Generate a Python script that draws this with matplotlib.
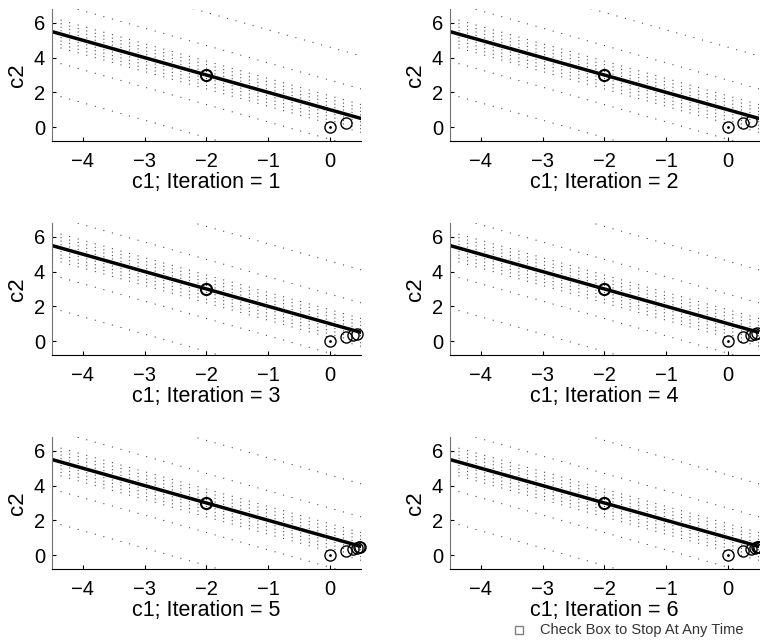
import numpy as np
import matplotlib
matplotlib.use('Agg')
import matplotlib.pyplot as plt
from matplotlib.patches import Rectangle

plt.rcParams['font.family'] = ['Liberation Sans', 'DejaVu Sans']

## constraint line c1 + c2 = 1, drawn between these c1 values
line_c1 = [-4.5, 0.5]
line_c2 = [5.5, 0.5]

## dotted contour levels, each one a line c1 + c2 = level
contour_levels = [-2.6, -0.7, 0.2, 0.4, 0.6, 0.8, 1.2, 1.4, 1.6, 1.8, 2.7, 4.6]

## fixed point on the constraint
fixed_c1 = -2.0
fixed_c2 = 3.0

## iterates (start + one new point per iteration)
iter_c1 = [0.0, 0.25, 0.375, 0.44, 0.47, 0.485, 0.493]
iter_c2 = [0.0, 0.25, 0.36, 0.43, 0.465, 0.483, 0.492]

iterations = [1, 2, 3, 4, 5, 6]

xticks = [-4, -3, -2, -1, 0]
yticks = [0, 2, 4, 6]

fig = plt.figure(figsize=(7.6, 6.44), dpi=100)

lefts = [0.0684, 0.592]
bottoms = [0.781, 0.4488, 0.1165]
w, h = 0.4066, 0.205

cx = np.array([-4.5, 0.5])
for k, it in enumerate(iterations):
    row, col = divmod(k, 2)
    ax = fig.add_axes([lefts[col], bottoms[row], w, h])

    for lev in contour_levels:
        ax.plot(cx, lev - cx, color='0.3', lw=0.8, linestyle=(0, (1, 7)))

    ax.plot(line_c1, line_c2, color='k', lw=2.5)
    ax.plot(fixed_c1, fixed_c2, 'o', mfc='none', mec='k', ms=8, mew=1.5)

    n = it + 1
    ax.plot(iter_c1[:n], iter_c2[:n], 'o', mfc='none', mec='k', ms=8,
            mew=1.0, clip_on=False)
    ax.plot(iter_c1[0], iter_c2[0], '.', color='k', ms=2)

    ax.set_xlim(-4.5, 0.5)
    ax.set_ylim(-0.8, 6.8)
    ax.set_xticks(xticks)
    ax.set_yticks(yticks)
    ax.set_xticklabels(['\u2212%d' % -t if t < 0 else '%d' % t for t in xticks])
    ax.tick_params(direction='in', length=3, labelsize=14.5)
    ax.tick_params(axis='x', pad=8)
    ax.tick_params(axis='y', pad=5)
    ax.spines['top'].set_visible(False)
    ax.spines['right'].set_visible(False)
    ax.spines['left'].set_color('0.45')
    ax.set_xlabel('c1; Iteration = %d' % it, fontsize=15.5, labelpad=0.5)
    ax.set_ylabel('c2', fontsize=16, labelpad=4)

## checkbox at the bottom
fig.patches.append(Rectangle((515 / 760, 1 - 634 / 644), 8 / 760, 8 / 644,
                             transform=fig.transFigure, fill=False,
                             edgecolor='0.5', lw=1))
fig.text(540 / 760, 1 - 630 / 644, 'Check Box to Stop At Any Time',
         fontsize=10.5, color='0.2', va='center', ha='left')

fig.savefig('out.png', dpi=100)
